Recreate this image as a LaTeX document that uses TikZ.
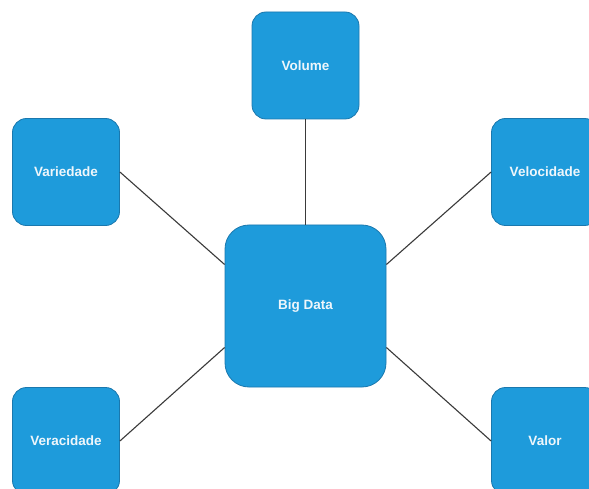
\documentclass[tikz,border=0pt]{standalone}
\usepackage{fontspec}
\setmainfont{Liberation Sans}
\usetikzlibrary{calc}
\definecolor{boxfill}{HTML}{1E9BDB}
\definecolor{boxedge}{HTML}{1A78AE}
\definecolor{boxtext}{HTML}{EEF6FB}
\definecolor{linkcol}{HTML}{3A3A3A}
\tikzset{
  vbox/.style={rectangle, rounded corners=14pt, fill=boxfill, draw=boxedge, line width=0.8pt,
    minimum width=107pt, minimum height=107pt, inner sep=0pt,
    text=boxtext, font=\fontsize{13.5}{16}\selectfont\bfseries},
  hub/.style={vbox, rounded corners=24pt, minimum width=161pt, minimum height=162pt},
  link/.style={draw=linkcol, line width=1.1pt}
}
\begin{document}
\begin{tikzpicture}[x=1pt,y=-1pt]
\useasboundingbox[fill=white] (0,0) rectangle (589,489);
% hub and the five V's
\node[hub]  (bd)  at (305.5,306)  {Big Data};
\node[vbox] (vol) at (305.5,65.5) {Volume};
\node[vbox] (var) at (66,172)     {Variedade};
\node[vbox] (vel) at (545,172)    {Velocidade};
\node[vbox] (ver) at (66,441)     {Veracidade};
\node[vbox] (val) at (545,441)    {Valor};
% attachment points on the hub's sides
\coordinate (bdwu) at ($(bd.west)+(0,-41.5)$);
\coordinate (bdwd) at ($(bd.west)+(0,41.5)$);
\coordinate (bdeu) at ($(bd.east)+(0,-41.5)$);
\coordinate (bded) at ($(bd.east)+(0,41.5)$);
% connectors
\draw[link] (vol.south) -- (bd.north);
\draw[link] (var.east) -- (bdwu);
\draw[link] (ver.east) -- (bdwd);
\draw[link] (vel.west) -- (bdeu);
\draw[link] (val.west) -- (bded);
\end{tikzpicture}
\end{document}
